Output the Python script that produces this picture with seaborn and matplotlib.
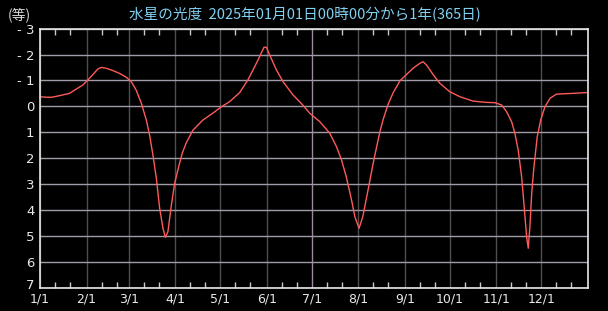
import numpy as np
import pandas as pd
import matplotlib
matplotlib.use("Agg")
import matplotlib.pyplot as plt
import matplotlib.dates as mdates
import matplotlib.transforms as mtransforms
import seaborn as sns

# ---- data (day offset from 2025-01-01, magnitude) ----
days = [0, 4, 8, 13, 19.7, 24, 28.5, 31.4, 35, 38.5, 40.8, 44, 48.5, 53, 57.5,
        60.8, 64, 67.5, 70.8, 73, 75.2, 77.5, 79.7, 81.9, 83.5, 85.2, 87.5, 89.7,
        92.5, 94.8, 97.5, 101.9, 108.5, 115, 120.8, 126.3, 133, 138.5, 143, 146.3,
        149.2, 150.8, 153, 157.5, 161.9, 168.5, 175, 179.7, 186.3, 193, 197.5,
        200.8, 204, 207.5, 209.7, 212.5, 215, 218.5, 221.9, 226.3, 228.5, 232,
        235.2, 239.7, 244, 248.5, 253, 255.2, 257.5, 262, 266.3, 273, 279.7,
        288.5, 297.5, 303, 307.5, 310.8, 314.1, 316.3, 318.5, 320.8, 322.5,
        324.1, 325.2, 326.3, 327.5, 329, 331.2, 333.5, 336.3, 339.7, 344, 355, 364]
magnitude = [-0.37, -0.35, -0.35, -0.41, -0.50, -0.66, -0.82, -0.99, -1.21, -1.44,
             -1.50, -1.47, -1.38, -1.27, -1.12, -0.95, -0.63, -0.12, 0.53, 1.11,
             1.88, 2.78, 3.94, 4.71, 5.06, 4.84, 3.81, 2.97, 2.30, 1.80, 1.40, 0.92,
             0.53, 0.27, 0.02, -0.18, -0.53, -1.02, -1.53, -1.92, -2.28, -2.28,
             -1.98, -1.40, -0.95, -0.44, -0.05, 0.27, 0.59, 1.04, 1.56, 2.07, 2.72,
             3.62, 4.26, 4.71, 4.26, 3.23, 2.20, 1.00, 0.52, -0.10, -0.52, -0.98,
             -1.22, -1.47, -1.66, -1.72, -1.59, -1.21, -0.89, -0.56, -0.37, -0.20,
             -0.15, -0.14, -0.05, 0.21, 0.59, 1.04, 1.69, 2.72, 3.88, 5.03, 5.48,
             4.65, 3.36, 2.33, 1.17, 0.53, 0.02, -0.31, -0.47, -0.50, -0.53]

month_labels = ["1/1", "2/1", "3/1", "4/1", "5/1", "6/1",
                "7/1", "8/1", "9/1", "10/1", "11/1", "12/1"]
y_ticks = [-3, -2, -1, 0, 1, 2, 3, 4, 5, 6, 7]
y_labels = ["- 3", "- 2", "- 1", "0", "1", "2", "3", "4", "5", "6", "7"]
title = "水星の光度  2025年01月01日00時00分から1年(365日)"
unit_label = "(等)"

start = pd.Timestamp("2025-01-01")
df = pd.DataFrame({
    "date": start + pd.to_timedelta(days, unit="D"),
    "mag": magnitude,
})

sns.set_style("dark")
plt.rcParams["font.family"] = ["Noto Sans CJK JP", "DejaVu Sans"]

fig = plt.figure(figsize=(6.08, 3.11), dpi=100, facecolor="black")
ax = fig.add_axes([40 / 608, 1 - 287.6 / 311, 548 / 608, (287.6 - 28.6) / 311])
ax.set_facecolor("black")

sns.lineplot(data=df, x="date", y="mag", ax=ax, color="#ff5a5a", linewidth=1.0)

ax.set_xlim(start, pd.Timestamp("2026-01-01"))
ax.set_ylim(7, -3)

# x axis: month starts labelled, minor ticks on 11th and 21st
month_starts = pd.date_range(start, periods=len(month_labels), freq="MS")
ax.set_xticks(month_starts)
ax.set_xticklabels(month_labels, fontfamily="DejaVu Sans")
ax.xaxis.set_minor_locator(mdates.DayLocator(bymonthday=[11, 21]))
ax.tick_params(axis="x", which="major", length=0, pad=3.5, labelsize=9,
               labelcolor="#e8e8e8")
ax.tick_params(axis="x", which="minor", direction="in", length=4, width=1,
               color="#c8c8c8", top=True, bottom=True)

ax.set_yticks(y_ticks)
ax.set_yticklabels(y_labels, fontfamily="DejaVu Sans")
ax.tick_params(axis="y", which="major", length=0, pad=4, labelsize=9.5,
               labelcolor="#e8e8e8")
# the bottom "7" label sits a little higher in the reference
lab7 = ax.get_yticklabels()[-1]
lab7.set_transform(lab7.get_transform() +
                   mtransforms.ScaledTranslation(0, 4 / 100, fig.dpi_scale_trans))

ax.set_xlabel("")
ax.set_ylabel("")

ax.grid(True, axis="y", color="#a39aa8", linewidth=1.0)
ax.grid(True, axis="x", which="major", color="#4e4e4e", linewidth=1.0)
ax.grid(False, axis="x", which="minor")
xg = ax.get_xgridlines()
if len(xg) > 6:
    xg[6].set_color("#9a8c9c")
ax.set_axisbelow(True)

for s in ax.spines.values():
    s.set_visible(True)
    s.set_color("#e8e8e8")
    s.set_linewidth(1.2)

fig.text(305 / 608, 1 - 15 / 311, title, color="#80d0f0", fontsize=10.5,
         ha="center", va="center")
fig.text(19 / 608, 1 - 15 / 311, unit_label, color="#d8d8d8", fontsize=10,
         ha="center", va="center")

fig.savefig("out.png", dpi=100, facecolor="black")
